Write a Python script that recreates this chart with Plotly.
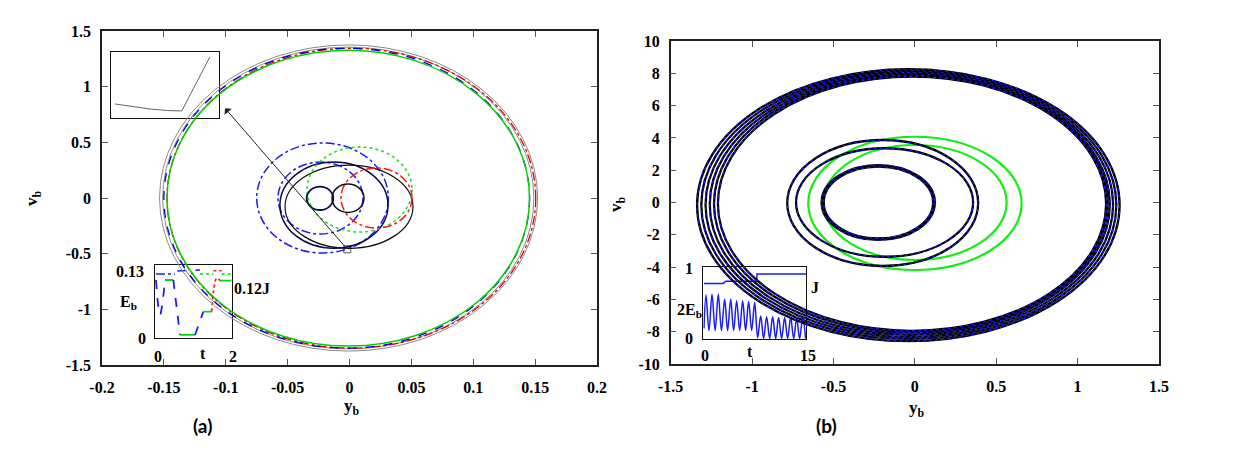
import plotly.graph_objects as go

# ---------------- DATA ----------------
# Panel (a) axes ticks
a_xticks = [-0.2, -0.15, -0.1, -0.05, 0, 0.05, 0.1, 0.15, 0.2]
a_xticktext = ["-0.2", "-0.15", "-0.1", "-0.05", "0", "0.05", "0.1", "0.15", "0.2"]
a_yticks = [-1.5, -1, -0.5, 0, 0.5, 1, 1.5]
a_yticktext = ["-1.5", "-1", "-0.5", "0", "0.5", "1", "1.5"]

# Panel (a) large orbits: bounding box in (y_b, v_b)
a_big_ymin = [-0.1535, -0.1510, -0.1475, -0.1500, -0.1475]
a_big_ymax = [0.1520, 0.1490, 0.1505, 0.1455, 0.1455]
a_big_vmin = [-1.375, -1.355, -1.348, -1.348, -1.330]
a_big_vmax = [1.375, 1.355, 1.345, 1.345, 1.327]

# Panel (a) inner loops: bounding box in (y_b, v_b)
a_loop_ymin = [-0.0750, -0.0578, -0.0562, -0.0521, -0.0343, -0.0069, -0.0346, -0.0141]
a_loop_ymax = [0.0314, 0.0109, 0.0311, 0.0513, 0.0505, 0.0505, -0.0131, 0.0117]
a_loop_vmin = [-0.494, -0.323, -0.452, -0.452, -0.305, -0.270, -0.108, -0.130]
a_loop_vmax = [0.494, 0.323, 0.323, 0.296, 0.458, 0.270, 0.102, 0.126]

# Arrow (from marked point to zoom inset)
arrow_tail = (-0.0018, -0.461)
arrow_head = (-0.1006, 0.806)

# Panel (a) zoom inset (arbitrary normalised units)
a_zoom_x = [0.037, 0.20, 0.36, 0.52, 0.653, 0.914]
a_zoom_y = [0.217, 0.180, 0.141, 0.118, 0.111, 0.933]

# Panel (a) energy inset: E_b(t)
a_ins_t = [0.026, 0.13, 0.261, 0.478, 0.652, 1.043, 1.261, 1.478, 1.609, 1.696, 2.0]
a_ins_E = [0.1034, 0.0414, 0.1034, 0.1034, 0.0059, 0.0059, 0.0473, 0.0473, 0.1064, 0.1022, 0.1022]
# Panel (a) inset: 0.12 J(t) pieces
a_J_t = [[0.026, 0.522], [0.583, 1.174], [1.174, 1.522], [1.522, 1.739], [1.739, 2.0]]
a_J_v = [[0.1140, 0.1140], [0.1194, 0.1210], [0.1140, 0.1140], [0.1200, 0.1200], [0.1140, 0.1140]]

# Panel (b) axes ticks
b_xticks = [-1.5, -1, -0.5, 0, 0.5, 1, 1.5]
b_xticktext = ["-1.5", "-1", "-0.5", "0", "0.5", "1", "1.5"]
b_yticks = [-10, -8, -6, -4, -2, 0, 2, 4, 6, 8, 10]
b_yticktext = ["-10", "-8", "-6", "-4", "-2", "0", "2", "4", "6", "8", "10"]

# Panel (b) green orbits
b_green_ymin = [-0.655, -0.563]
b_green_ymax = [0.656, 0.564]
b_green_vmin = [-4.18, -3.56]
b_green_vmax = [4.07, 3.56]

# Panel (b) black/blue orbits
b_orb_ymin = [-1.338, -1.312, -1.286, -1.260, -1.234, -1.210, -0.784, -0.730, -0.573, -0.560]
b_orb_ymax = [1.258, 1.238, 1.218, 1.198, 1.185, 1.175, 0.389, 0.358, 0.123, 0.112]
b_orb_vmin = [-8.58, -8.45, -8.32, -8.19, -8.06, -7.95, -3.93, -3.36, -2.32, -2.22]
b_orb_vmax = [8.25, 8.15, 8.05, 7.95, 7.87, 7.80, 3.87, 3.36, 2.32, 2.22]

# Panel (b) inset: J(t) and 2E_b(t)
b_J_t = [0.1, 2.9, 3.3, 7.8, 7.85, 15.0]
b_J = [0.77, 0.77, 0.80, 0.80, 0.90, 0.90]
b_E_t = [0.1, 0.39, 0.83, 1.27, 1.73, 2.19, 2.65, 3.12, 3.55, 4.0, 4.43, 4.87, 5.31, 5.75,
         6.18, 6.62, 7.06, 7.5, 7.94, 8.38, 8.81, 9.25, 9.69, 10.13, 10.57, 11.0, 11.44,
         11.88, 12.32, 12.76, 13.2, 13.64, 14.07, 14.51, 14.95]
b_E = [0.15, 0.61, 0.12, 0.62, 0.12, 0.62, 0.12, 0.55, 0.12, 0.55, 0.12, 0.53, 0.12, 0.53,
       0.12, 0.52, 0.12, 0.51, 0.02, 0.32, 0.01, 0.31, 0.01, 0.31, 0.01, 0.30, 0.01,
       0.30, 0.01, 0.30, 0.01, 0.29, 0.01, 0.29, 0.01]

# ---------------- STYLE / LAYOUT ----------------
W, H = 1240, 471
def fx(p):
    return p / W
def fy(p):
    return 1 - p / H

SERIF = "Liberation Serif"
tickfont = dict(family=SERIF, size=16, color="black", weight="bold")

a_big_style = [dict(color="#8a8a8a", width=1), dict(color="#8a8a8a", width=1),
               dict(color="#e00000", width=1.3, dash="dashdot"),
               dict(color="#0000e0", width=1.3, dash="dash"),
               dict(color="#00d000", width=1.5)]
a_loop_style = [dict(color="#1a1aff", width=1.5, dash="dashdot"),
                dict(color="#1a1aff", width=1.5, dash="dashdot"),
                dict(color="#0a0a50", width=1.5),
                dict(color="#101010", width=1.2),
                dict(color="#22dd22", width=1.5, dash="dot"),
                dict(color="#ff1a1a", width=1.5, dash="dashdot"),
                dict(color="#0a0a50", width=1.8),
                dict(color="#101010", width=1.5)]

fig = go.Figure()

shapes = []
for i in range(len(a_big_ymin)):
    shapes.append(dict(type="circle", xref="x", yref="y", x0=a_big_ymin[i], x1=a_big_ymax[i],
                       y0=a_big_vmin[i], y1=a_big_vmax[i], line=a_big_style[i]))
for i in range(len(a_loop_ymin)):
    shapes.append(dict(type="circle", xref="x", yref="y", x0=a_loop_ymin[i], x1=a_loop_ymax[i],
                       y0=a_loop_vmin[i], y1=a_loop_vmax[i], line=a_loop_style[i]))
for i in range(len(b_green_ymin)):
    shapes.append(dict(type="circle", xref="x2", yref="y2", x0=b_green_ymin[i], x1=b_green_ymax[i],
                       y0=b_green_vmin[i], y1=b_green_vmax[i], line=dict(color="#11ee11", width=2.2)))
for i in range(len(b_orb_ymin)):
    shapes.append(dict(type="circle", xref="x2", yref="y2", x0=b_orb_ymin[i], x1=b_orb_ymax[i],
                       y0=b_orb_vmin[i], y1=b_orb_vmax[i], line=dict(color="#000000", width=2.3)))
    shapes.append(dict(type="circle", xref="x2", yref="y2", x0=b_orb_ymin[i], x1=b_orb_ymax[i],
                       y0=b_orb_vmin[i], y1=b_orb_vmax[i], line=dict(color="#1a1aff", width=1.2, dash="dot")))

# marked point in panel (a)
fig.add_trace(go.Scatter(x=[arrow_tail[0]], y=[arrow_tail[1]], mode="markers", xaxis="x", yaxis="y",
                         marker=dict(symbol="square-open", size=7, color="#555", line=dict(width=1)),
                         showlegend=False, hoverinfo="skip"))
# anchor trace for panel (b)
fig.add_trace(go.Scatter(x=[0], y=[0], mode="markers", xaxis="x2", yaxis="y2", showlegend=False,
                         marker=dict(size=1, opacity=0), hoverinfo="skip"))

# zoom inset (a)
fig.add_trace(go.Scatter(x=a_zoom_x, y=a_zoom_y, mode="lines", xaxis="x3", yaxis="y3",
                         line=dict(color="#666", width=1), showlegend=False))

# energy inset (a)
seg_style = ["b", "b", "g", "b", "g", "b", "g", "r", "r", "g"]
col = {"b": dict(color="#1a1aff", width=1.8, dash="dash"),
       "g": dict(color="#00dd00", width=1.8),
       "r": dict(color="#ff1a1a", width=1.8, dash="dot")}
i = 0
while i < len(seg_style):
    j = i
    while j + 1 < len(seg_style) and seg_style[j + 1] == seg_style[i]:
        j += 1
    fig.add_trace(go.Scatter(x=a_ins_t[i:j + 2], y=a_ins_E[i:j + 2], mode="lines", xaxis="x4", yaxis="y4",
                             line=dict(**col[seg_style[i]], shape="spline"), showlegend=False))
    i = j + 1
J_style = [dict(color="#1a1aff", width=1.5, dash="dashdot"), dict(color="#1a1aff", width=1.5, dash="dash"),
           dict(color="#00dd00", width=1.5, dash="dot"), dict(color="#ff1a1a", width=1.5, dash="dot"),
           dict(color="#00dd00", width=1.5, dash="dot")]
for k in range(len(a_J_t)):
    fig.add_trace(go.Scatter(x=a_J_t[k], y=a_J_v[k], mode="lines", xaxis="x4", yaxis="y4",
                             line=J_style[k], showlegend=False))

# inset (b)
fig.add_trace(go.Scatter(x=b_J_t, y=b_J, mode="lines", xaxis="x5", yaxis="y5",
                         line=dict(color="#1a1aff", width=1.5), showlegend=False))
fig.add_trace(go.Scatter(x=b_E_t, y=b_E, mode="lines", xaxis="x5", yaxis="y5",
                         line=dict(color="#1a1aff", width=1.5, shape="spline", smoothing=1.0), showlegend=False))

main_axis = dict(showgrid=False, zeroline=False, showline=True, linecolor="#222", linewidth=1.5,
                 mirror="allticks", ticks="inside", ticklen=6, tickwidth=1.2, tickcolor="#555",
                 tickfont=tickfont, automargin=False)
inset_axis = dict(showgrid=False, zeroline=False, showline=True, linecolor="#111", linewidth=1.4,
                  mirror=True, ticks="", showticklabels=False, automargin=False)

fig.update_layout(
    width=W, height=H, margin=dict(l=0, r=0, t=0, b=0, autoexpand=False),
    plot_bgcolor="white", paper_bgcolor="white", showlegend=False,
    shapes=shapes,
    xaxis=dict(main_axis, domain=[fx(102), fx(597)], range=[-0.2, 0.2], tickvals=a_xticks,
               ticktext=a_xticktext, anchor="y", ticklabelstandoff=7),
    yaxis=dict(main_axis, domain=[fy(365), fy(31)], range=[-1.5, 1.5], tickvals=a_yticks,
               ticktext=a_yticktext, anchor="x", ticklabelstandoff=6),
    xaxis2=dict(main_axis, domain=[fx(670.7), fx(1159)], range=[-1.5, 1.5], tickvals=b_xticks,
                ticktext=b_xticktext, anchor="y2", ticklabelstandoff=7),
    yaxis2=dict(main_axis, domain=[fy(364), fy(41)], range=[-10, 10], tickvals=b_yticks,
                ticktext=b_yticktext, anchor="x2", ticklabelstandoff=6),
    xaxis3=dict(inset_axis, domain=[fx(111), fx(219.3)], range=[0, 1], anchor="y3"),
    yaxis3=dict(inset_axis, domain=[fy(118.3), fy(52.3)], range=[0, 1], anchor="x3"),
    xaxis4=dict(inset_axis, domain=[fx(155), fx(231.7)], range=[0, 2], anchor="y4"),
    yaxis4=dict(inset_axis, domain=[fy(338.3), fy(265)], range=[0, 0.13], anchor="x4"),
    xaxis5=dict(inset_axis, domain=[fx(703.3), fx(806)], range=[0, 15], anchor="y5"),
    yaxis5=dict(inset_axis, domain=[fy(339.3), fy(266.7)], range=[0, 1], anchor="x5"),
)

def txt(s, px, py, size=16, family=SERIF, angle=0, weight="bold"):
    return dict(text=s, x=fx(px), y=fy(py), xref="paper", yref="paper", showarrow=False,
                xanchor="center", yanchor="middle", textangle=angle,
                font=dict(family=family, size=size, color="black", weight=weight))

ann = [
    txt("y<sub>b</sub>", 352, 407, size=17),
    txt("y<sub>b</sub>", 917, 409, size=17),
    txt("v<sub>b</sub>", 33, 198, size=17, angle=-90),
    txt("v<sub>b</sub>", 617, 204, size=17, angle=-90),
    txt("(a)", 202, 425, size=19, family="Lato"),
    txt("(b)", 826, 425, size=19, family="Lato"),
    # inset (a) labels
    txt("0.13", 130, 271.5),
    txt("E<sub>b</sub>", 128, 302),
    txt("0", 141.5, 338),
    txt("0", 158, 356.5),
    txt("t", 203, 353),
    txt("2", 233, 356.5),
    txt("0.12J", 252, 288),
    # inset (b) labels
    txt("1", 689, 268),
    txt("2E<sub>b</sub>", 689, 310),
    txt("0", 689, 338),
    txt("0", 705, 355.5),
    txt("t", 750, 351.5),
    txt("15", 808, 355.5),
    txt("J", 815, 287),
    dict(x=arrow_head[0], y=arrow_head[1], ax=arrow_tail[0], ay=arrow_tail[1], xref="x", yref="y",
         axref="x", ayref="y", showarrow=True, arrowhead=1, arrowsize=1.6, arrowwidth=1,
         arrowcolor="#222", text=""),
]
fig.update_layout(annotations=ann)

fig.write_html("out.html")
